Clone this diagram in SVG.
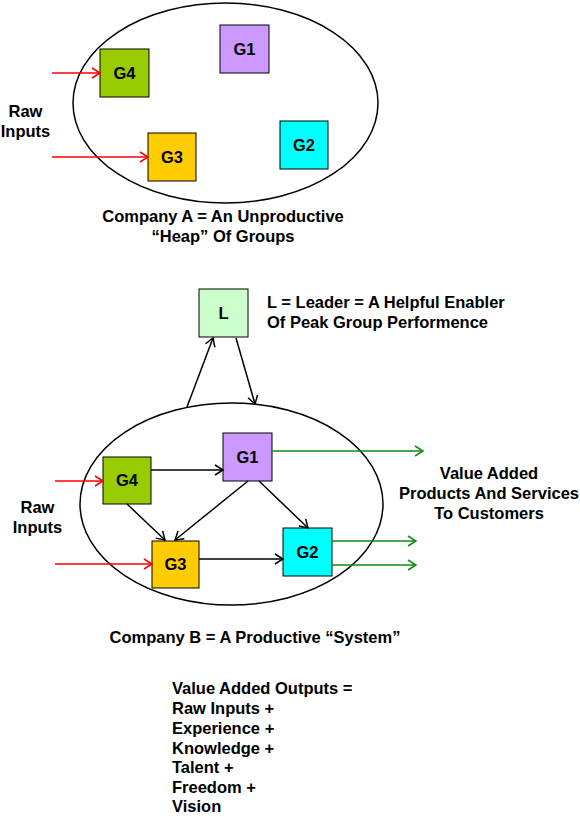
<svg xmlns="http://www.w3.org/2000/svg" width="580" height="819" viewBox="0 0 580 819">
<defs>
<marker id="ab" markerWidth="12" markerHeight="12" refX="10" refY="6" orient="auto" markerUnits="userSpaceOnUse"><path d="M2,1 L10,6 L2,11" fill="none" stroke="#000" stroke-width="1.5"/></marker>
<marker id="ar" markerWidth="12" markerHeight="12" refX="10" refY="6" orient="auto" markerUnits="userSpaceOnUse"><path d="M2,1 L10,6 L2,11" fill="none" stroke="#FF0000" stroke-width="1.5"/></marker>
<marker id="ag" markerWidth="12" markerHeight="12" refX="10" refY="6" orient="auto" markerUnits="userSpaceOnUse"><path d="M2,1 L10,6 L2,11" fill="none" stroke="#108A10" stroke-width="1.5"/></marker>
</defs>
<style>
text{font-family:"Liberation Sans",Arial,sans-serif;font-weight:bold;font-size:16.5px;fill:#000}
.c{text-anchor:middle}
.box{stroke:#000;stroke-width:1}
.ell{fill:none;stroke:#000;stroke-width:1.5}
.k{stroke:#000;stroke-width:1.5;fill:none;marker-end:url(#ab)}
.r{stroke:#FF0000;stroke-width:1.5;fill:none;marker-end:url(#ar)}
.g{stroke:#108A10;stroke-width:1.5;fill:none;marker-end:url(#ag)}
</style>
<rect width="580" height="819" fill="#fff"/>
<g id="companyA">
<ellipse class="ell" cx="225.5" cy="103" rx="152.5" ry="100"/>
</g>
<g id="A-G4"><rect class="box" x="100" y="49" width="49" height="48" fill="#99CC00"/><text class="c" x="124.5" y="79">G4</text></g>
<g id="A-G1"><rect class="box" x="220" y="25" width="49" height="48" fill="#CC99FF"/><text class="c" x="244.5" y="55">G1</text></g>
<g id="A-G3"><rect class="box" x="148" y="133" width="48" height="48" fill="#FFCC00"/><text class="c" x="172" y="163">G3</text></g>
<g id="A-G2"><rect class="box" x="280" y="121" width="48" height="48" fill="#00FFFF"/><text class="c" x="304" y="151">G2</text></g>
<g id="A-labels">
<text class="c" x="25.5" y="117">Raw</text>
<text class="c" x="25.5" y="137">Inputs</text>
<text class="c" x="223" y="222">Company A = An Unproductive</text>
<text class="c" x="223" y="242">“Heap” Of Groups</text>
</g>
<g id="companyB">
<ellipse class="ell" cx="231.5" cy="504" rx="151.5" ry="101"/>
</g>
<g id="L"><rect class="box" x="199" y="289" width="49" height="48" fill="#CCFFCC"/><text class="c" x="223.5" y="319">L</text></g>
<g id="B-G4"><rect class="box" x="103" y="457" width="48" height="47" fill="#99CC00"/><text class="c" x="127" y="486">G4</text></g>
<g id="B-G1"><rect class="box" x="223" y="433" width="49" height="48" fill="#CC99FF"/><text class="c" x="247.5" y="463">G1</text></g>
<g id="B-G3"><rect class="box" x="152" y="541" width="47" height="47" fill="#FFCC00"/><text class="c" x="175.5" y="570">G3</text></g>
<g id="B-G2"><rect class="box" x="283" y="528" width="49" height="48" fill="#00FFFF"/><text class="c" x="307.5" y="558">G2</text></g>
<g id="connectors">
<line class="r" x1="52" y1="73" x2="100" y2="73"/>
<line class="r" x1="52" y1="157" x2="148" y2="157"/>
<line class="k" x1="187" y1="407" x2="213" y2="338"/>
<line class="k" x1="236" y1="338" x2="255" y2="404"/>
<line class="r" x1="55" y1="481" x2="103" y2="481"/>
<line class="r" x1="55" y1="564" x2="152" y2="564"/>
<line class="k" x1="151" y1="470" x2="223" y2="470"/>
<line class="k" x1="127" y1="504" x2="165" y2="540"/>
<line class="k" x1="248" y1="481" x2="175" y2="540"/>
<line class="k" x1="259" y1="481" x2="308" y2="528"/>
<line class="k" x1="199" y1="559" x2="283" y2="559"/>
<line class="g" x1="272" y1="451" x2="423" y2="451"/>
<line class="g" x1="332" y1="541" x2="416" y2="541"/>
<line class="g" x1="332" y1="565" x2="416" y2="565"/>
</g>
<g id="B-labels">
<text x="267" y="308">L = Leader = A Helpful Enabler</text>
<text x="267" y="328">Of Peak Group Performence</text>
<text class="c" x="489" y="479">Value Added</text>
<text class="c" x="489" y="499">Products And Services</text>
<text class="c" x="489" y="519">To Customers</text>
<text class="c" x="37.5" y="513">Raw</text>
<text class="c" x="37.5" y="533">Inputs</text>
<text class="c" x="255" y="643">Company B = A Productive “System”</text>
</g>
<g id="formula">
<text x="172" y="694">Value Added Outputs =</text>
<text x="172" y="714">Raw Inputs +</text>
<text x="172" y="734">Experience +</text>
<text x="172" y="754">Knowledge +</text>
<text x="172" y="773">Talent +</text>
<text x="172" y="793">Freedom +</text>
<text x="172" y="812">Vision</text>
</g>
</svg>
